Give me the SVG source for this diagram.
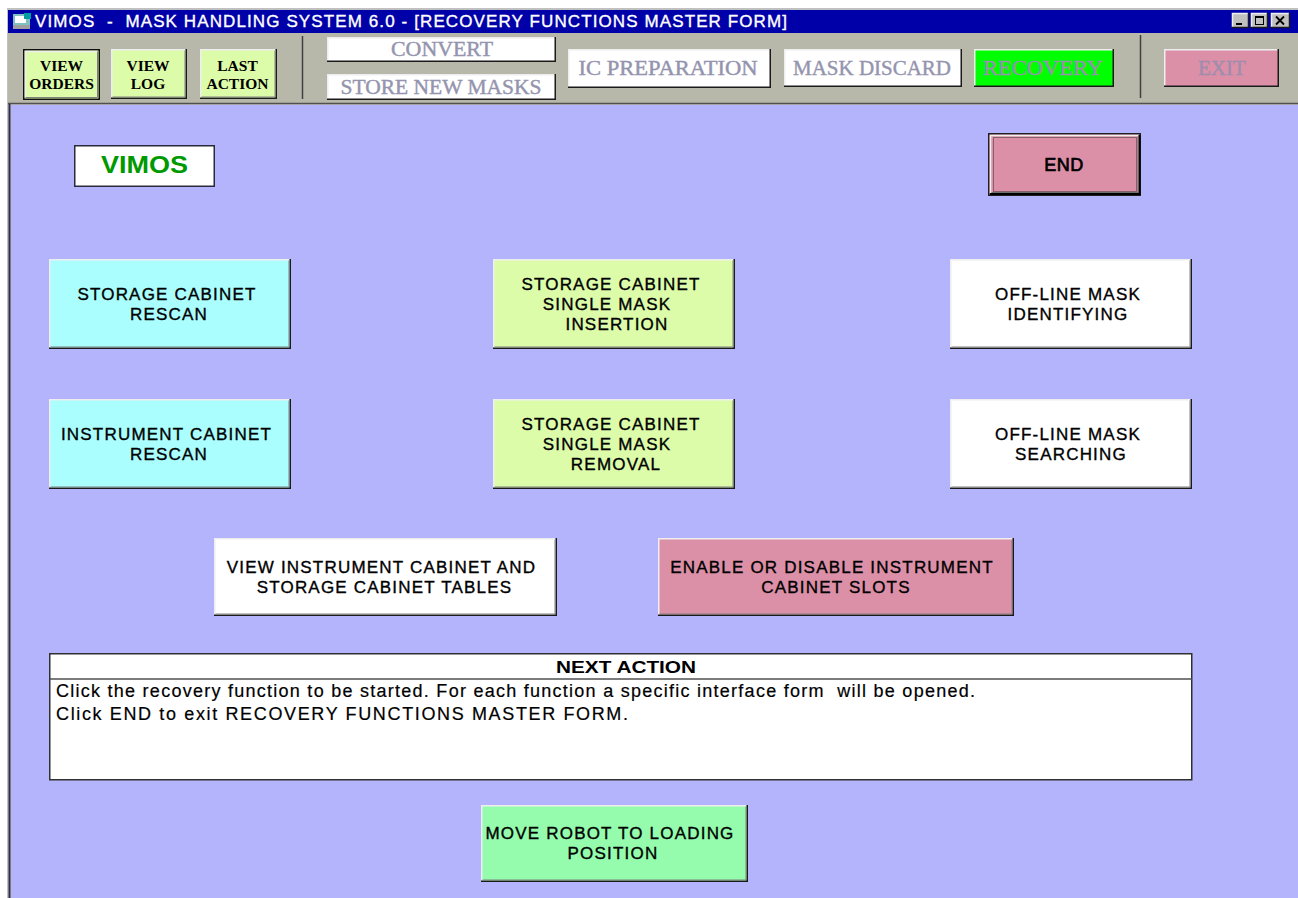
<svg xmlns="http://www.w3.org/2000/svg" width="1298" height="898" viewBox="0 0 1298 898">
<style>
.hl{fill:none;stroke:#eeeeee;stroke-width:1.5}
.sh1{fill:none;stroke:#1a1a1a;stroke-width:1.5}
.sh2{fill:none;stroke:#808080;stroke-width:1}
.bt{font-family:"Liberation Sans",Arial,sans-serif;font-size:17px;letter-spacing:1.2px;fill:#000;stroke:#000;stroke-width:0.35;text-anchor:middle}
.tb{font-family:"Liberation Serif","Times New Roman",serif;font-size:15.5px;font-weight:bold;fill:#000;text-anchor:middle}
.dis{font-family:"Liberation Serif","Times New Roman",serif;font-size:20px;fill:#9494ae;stroke:#9494ae;stroke-width:0.4;text-anchor:middle}
.cyan{fill:#aafefe}
.lgreen{fill:#dcfcaa}
.pink{fill:#dc90a8}
.white{fill:#ffffff}
.body{font-family:"Liberation Sans",Arial,sans-serif;font-size:18px;fill:#000;stroke:#000;stroke-width:0.2}
</style>

<!-- window frame -->
<rect x="0" y="0" width="1298" height="898" fill="#ffffff"/>
<rect x="7" y="8" width="1291" height="890" fill="#c0c0c0"/>
<rect x="8" y="10" width="1290" height="23" fill="#0000a8"/>
<rect x="8" y="33" width="1290" height="70" fill="#b8b8aa"/>
<rect x="11" y="105" width="1287" height="793" fill="#b4b4fc"/>
<line x1="8" y1="103.5" x2="1298" y2="103.5" stroke="#505050" stroke-width="1.5"/>
<line x1="9.5" y1="104" x2="9.5" y2="898" stroke="#303048" stroke-width="2"/>

<!-- title bar -->
<g id="titlebar">
  <rect x="13" y="14" width="17" height="14" fill="#80c0c0"/>
  <rect x="15" y="16" width="11" height="7" fill="#ffffff"/>
  <rect x="13" y="25" width="17" height="4" fill="#a0a0a0"/>
  <rect x="24" y="13" width="7" height="6" fill="#00a0a0"/>
  <text x="35" y="27" font-family="Liberation Sans,Arial,sans-serif" font-size="17" fill="#ffffff" stroke="#ffffff" stroke-width="0.35" textLength="752" lengthAdjust="spacing" xml:space="preserve" style="white-space:pre">VIMOS  -  MASK HANDLING SYSTEM 6.0 - [RECOVERY FUNCTIONS MASTER FORM]</text>
  <g id="winbtns">
    <rect x="1232" y="13" width="17" height="15" fill="#c0c0c0"/>
    <path class="hl" d="M1232.5 27 V13.5 H1248"/>
    <path class="sh1" d="M1232 27.5 H1248.5 V13" stroke-width="1"/>
    <rect x="1236" y="23" width="6" height="2" fill="#000"/>
    <rect x="1251" y="13" width="17" height="15" fill="#c0c0c0"/>
    <path class="hl" d="M1251.5 27 V13.5 H1267"/>
    <path class="sh1" d="M1251 27.5 H1267.5 V13" stroke-width="1"/>
    <rect x="1255.5" y="16.5" width="8" height="8" fill="none" stroke="#000" stroke-width="1"/>
    <rect x="1255" y="16" width="9" height="2" fill="#000"/>
    <rect x="1271" y="13" width="19" height="15" fill="#c0c0c0"/>
    <path class="hl" d="M1271.5 27 V13.5 H1289"/>
    <path class="sh1" d="M1271 27.5 H1289.5 V13" stroke-width="1"/>
    <path d="M1276 16.5 L1284 24.5 M1284 16.5 L1276 24.5" stroke="#000" stroke-width="1.8"/>
  </g>
</g>

<!-- toolbar -->
<g id="toolbar">
  <line x1="302.5" y1="36" x2="302.5" y2="99" stroke="#404040" stroke-width="1.5"/>
  <line x1="1140.5" y1="35" x2="1140.5" y2="98" stroke="#404040" stroke-width="1.5"/>

  <g id="btn-view-orders">
    <rect x="23" y="49" width="77" height="51" class="lgreen"/>
    <rect x="23.75" y="49.75" width="75.5" height="49.5" fill="none" stroke="#101010" stroke-width="1.5"/>
    <path class="hl" d="M25.5 97 V51.5 H97"/>
    <path class="sh2" d="M25.5 97.5 H97.5 V51.5"/>
    <text class="tb" x="61.5" y="71">VIEW</text>
    <text class="tb" x="61.5" y="89">ORDERS</text>
  </g>
  <g id="btn-view-log">
    <rect x="111" y="49" width="76" height="50" class="lgreen"/>
    <path class="hl" d="M111.75 98 V49.75 H186"/>
    <path class="sh1" d="M111 98.25 H186.25 V49"/>
    <path class="sh2" d="M112.5 97 H185 V50.5"/>
    <text class="tb" x="148" y="71">VIEW</text>
    <text class="tb" x="148" y="89">LOG</text>
  </g>
  <g id="btn-last-action">
    <rect x="200" y="49" width="77" height="50" class="lgreen"/>
    <path class="hl" d="M200.75 98 V49.75 H276"/>
    <path class="sh1" d="M200 98.25 H276.25 V49"/>
    <path class="sh2" d="M201.5 97 H275 V50.5"/>
    <text class="tb" x="237.5" y="71">LAST</text>
    <text class="tb" x="237.5" y="89">ACTION</text>
  </g>
  <g id="btn-convert">
    <rect x="327" y="37" width="229" height="25" class="white"/>
    <path class="hl" d="M327.75 61 V37.75 H555" stroke="#d8d8d8"/>
    <path class="sh1" d="M327 61.25 H555.25 V37" stroke="#404040"/>
    <text class="dis" x="442" y="56" textLength="102" lengthAdjust="spacingAndGlyphs">CONVERT</text>
  </g>
  <g id="btn-store">
    <rect x="327" y="74" width="229" height="26" class="white"/>
    <path class="hl" d="M327.75 99 V74.75 H555" stroke="#d8d8d8"/>
    <path class="sh1" d="M327 99.25 H555.25 V74" stroke="#404040"/>
    <text class="dis" x="441" y="94" textLength="201" lengthAdjust="spacingAndGlyphs">STORE NEW MASKS</text>
  </g>
  <g id="btn-ic-prep">
    <rect x="568" y="49" width="203" height="39" class="white"/>
    <path class="hl" d="M568.75 87 V49.75 H770" stroke="#d8d8d8"/>
    <path class="sh1" d="M568 87.25 H770.25 V49" stroke="#404040"/>
    <text class="dis" x="668" y="75" textLength="179" lengthAdjust="spacingAndGlyphs">IC PREPARATION</text>
  </g>
  <g id="btn-mask-discard">
    <rect x="784" y="49" width="178" height="38" class="white"/>
    <path class="hl" d="M784.75 86 V49.75 H961" stroke="#d8d8d8"/>
    <path class="sh1" d="M784 86.25 H961.25 V49" stroke="#404040"/>
    <text class="dis" x="872" y="75" textLength="158" lengthAdjust="spacingAndGlyphs">MASK DISCARD</text>
  </g>
  <g id="btn-recovery">
    <rect x="974" y="49" width="140" height="38" fill="#00ff00"/>
    <path class="hl" d="M974.75 86 V49.75 H1113" stroke="#d8d8d8"/>
    <path class="sh1" d="M974 86.25 H1113.25 V49" stroke="#404040"/>
    <text class="dis" x="1043" y="75" textLength="120" lengthAdjust="spacingAndGlyphs">RECOVERY</text>
  </g>
  <g id="btn-exit">
    <rect x="1164" y="49" width="115" height="38" class="pink"/>
    <path class="hl" d="M1164.75 86 V49.75 H1278" stroke="#e8e8e8"/>
    <path class="sh1" d="M1164 86.25 H1278.25 V49" stroke="#404040"/>
    <text class="dis" x="1222" y="75" textLength="48" lengthAdjust="spacingAndGlyphs" style="fill:#a08cac;stroke:#a08cac">EXIT</text>
  </g>
</g>

<!-- main form -->
<g id="vimos-label">
  <rect x="74.75" y="145.75" width="139.5" height="40.5" fill="#ffffff" stroke="#2a2a3a" stroke-width="1.5"/>
  <text x="144.5" y="173" font-family="Liberation Sans,Arial,sans-serif" font-size="24" font-weight="bold" fill="#009900" text-anchor="middle" textLength="87" lengthAdjust="spacingAndGlyphs">VIMOS</text>
</g>

<g id="btn-end">
  <rect x="988" y="133" width="153" height="63" class="pink"/>
  <rect x="988.75" y="133.75" width="151.5" height="61.5" fill="none" stroke="#202020" stroke-width="1.5"/>
  <path d="M990.5 193 V135.5 H1139" fill="none" stroke="#f0f0f0" stroke-width="1.5"/>
  <path d="M990 194 H1139.5 V135" fill="none" stroke="#000" stroke-width="2"/>
  <path d="M991.5 192.5 H1138 V136.5" fill="none" stroke="#707070" stroke-width="1"/>
  <rect x="993.5" y="137.5" width="143" height="54" fill="none" stroke="#303030" stroke-width="1" stroke-dasharray="1,1"/>
  <text class="bt" x="1064" y="171" style="font-size:18px;letter-spacing:0.5px;stroke-width:0.7">END</text>
</g>

<g id="btn-sc-rescan">
  <rect x="49" y="259" width="242" height="90" class="cyan"/>
  <path class="hl" d="M49.75 348 V259.75 H290"/>
  <path class="sh1" d="M49 348.25 H290.25 V259"/>
  <path class="sh2" d="M50.5 347 H289 V260.5"/>
  <text class="bt" x="167" y="300">STORAGE CABINET</text>
  <text class="bt" x="169" y="320">RESCAN</text>
</g>

<g id="btn-sc-insertion">
  <rect x="493" y="259" width="242" height="90" class="lgreen"/>
  <path class="hl" d="M493.75 348 V259.75 H734"/>
  <path class="sh1" d="M493 348.25 H734.25 V259"/>
  <path class="sh2" d="M494.5 347 H733 V260.5"/>
  <text class="bt" x="611" y="290">STORAGE CABINET</text>
  <text class="bt" x="607" y="310">SINGLE MASK</text>
  <text class="bt" x="617" y="330">INSERTION</text>
</g>

<g id="btn-offline-identifying">
  <rect x="950" y="259" width="242" height="90" class="white"/>
  <path class="hl" d="M950.75 348 V259.75 H1191" stroke="#d8d8d8"/>
  <path class="sh1" d="M950 348.25 H1191.25 V259"/>
  <path class="sh2" d="M951.5 347 H1190 V260.5"/>
  <text class="bt" x="1068" y="300">OFF-LINE MASK</text>
  <text class="bt" x="1068" y="320">IDENTIFYING</text>
</g>

<g id="btn-ic-rescan">
  <rect x="49" y="399" width="242" height="90" class="cyan"/>
  <path class="hl" d="M49.75 488 V399.75 H290"/>
  <path class="sh1" d="M49 488.25 H290.25 V399"/>
  <path class="sh2" d="M50.5 487 H289 V400.5"/>
  <text class="bt" x="166.5" y="440">INSTRUMENT CABINET</text>
  <text class="bt" x="169" y="460">RESCAN</text>
</g>

<g id="btn-sc-removal">
  <rect x="493" y="399" width="242" height="90" class="lgreen"/>
  <path class="hl" d="M493.75 488 V399.75 H734"/>
  <path class="sh1" d="M493 488.25 H734.25 V399"/>
  <path class="sh2" d="M494.5 487 H733 V400.5"/>
  <text class="bt" x="611" y="430">STORAGE CABINET</text>
  <text class="bt" x="607" y="450">SINGLE MASK</text>
  <text class="bt" x="616" y="470">REMOVAL</text>
</g>

<g id="btn-offline-searching">
  <rect x="950" y="399" width="242" height="90" class="white"/>
  <path class="hl" d="M950.75 488 V399.75 H1191" stroke="#d8d8d8"/>
  <path class="sh1" d="M950 488.25 H1191.25 V399"/>
  <path class="sh2" d="M951.5 487 H1190 V400.5"/>
  <text class="bt" x="1068" y="440">OFF-LINE MASK</text>
  <text class="bt" x="1071" y="460">SEARCHING</text>
</g>

<g id="btn-view-tables">
  <rect x="214" y="538" width="343" height="78" class="white"/>
  <path class="hl" d="M214.75 615 V538.75 H556" stroke="#d8d8d8"/>
  <path class="sh1" d="M214 615.25 H556.25 V538"/>
  <path class="sh2" d="M215.5 614 H555 V539.5"/>
  <text class="bt" x="381.5" y="573">VIEW INSTRUMENT CABINET AND</text>
  <text class="bt" x="384.5" y="593">STORAGE CABINET TABLES</text>
</g>

<g id="btn-enable-slots">
  <rect x="658" y="538" width="356" height="78" class="pink"/>
  <path class="hl" d="M658.75 615 V538.75 H1013"/>
  <path class="sh1" d="M658 615.25 H1013.25 V538"/>
  <path class="sh2" d="M659.5 614 H1012 V539.5"/>
  <text class="bt" x="832" y="573">ENABLE OR DISABLE INSTRUMENT</text>
  <text class="bt" x="836" y="593">CABINET SLOTS</text>
</g>

<g id="next-action">
  <rect x="49.75" y="653.75" width="1142" height="126" fill="#ffffff" stroke="#303030" stroke-width="1.5"/>
  <line x1="50" y1="679" x2="1192" y2="679" stroke="#505050" stroke-width="1.5"/>
  <text x="626" y="673" font-family="Liberation Sans,Arial,sans-serif" font-size="17" font-weight="bold" fill="#000" text-anchor="middle" textLength="140" lengthAdjust="spacingAndGlyphs">NEXT ACTION</text>
  <text class="body" x="56" y="697" textLength="919" lengthAdjust="spacing" xml:space="preserve" style="white-space:pre">Click the recovery function to be started. For each function a specific interface form  will be opened.</text>
  <text class="body" x="56" y="720" textLength="572" lengthAdjust="spacing">Click END to exit RECOVERY FUNCTIONS MASTER FORM.</text>
</g>

<g id="btn-move-robot">
  <rect x="481" y="805" width="267" height="77" fill="#94fcac"/>
  <path class="hl" d="M481.75 881 V805.75 H747"/>
  <path class="sh1" d="M481 881.25 H747.25 V805"/>
  <path class="sh2" d="M482.5 880 H746 V806.5"/>
  <text class="bt" x="610" y="839">MOVE ROBOT TO LOADING</text>
  <text class="bt" x="613" y="859">POSITION</text>
</g>

<g id="connectors"/>
</svg>
